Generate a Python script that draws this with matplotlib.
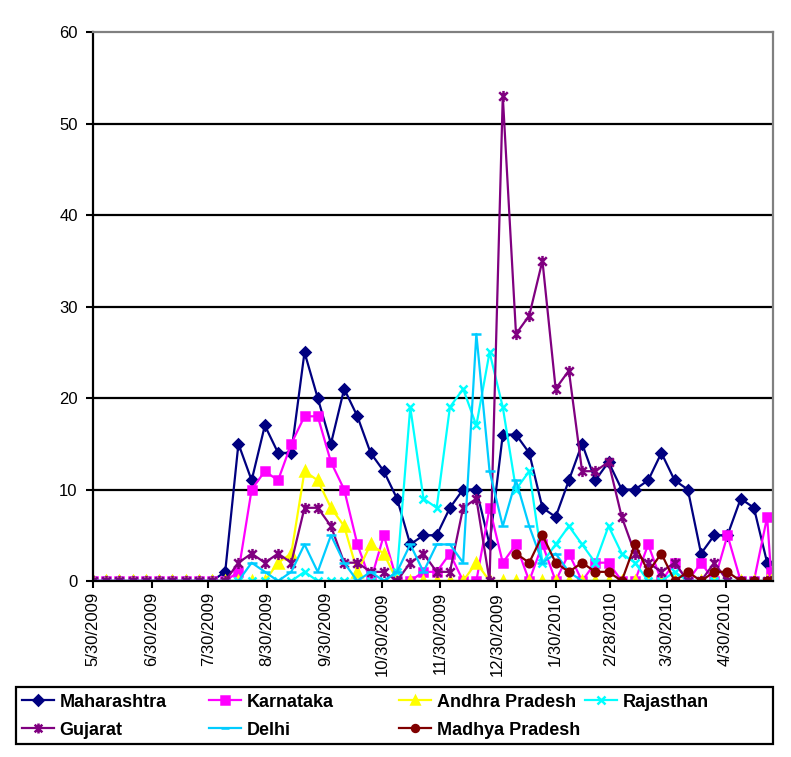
import numpy as np
import pandas as pd
import matplotlib
matplotlib.use("Agg")
import matplotlib.pyplot as plt
from matplotlib.path import Path
from matplotlib.patches import Rectangle

plt.rcParams['font.family'] = ['Liberation Sans', 'DejaVu Sans']

# weekly counts, 52 weeks from 5/30/2009 plus one last report
start_date = "2009-05-30"
n_weeks = 52
last_date = "2010-05-24"
axis_end = "2010-05-25"

maharashtra = [0]*10 + [1, 15, 11, 17, 14, 14, 25, 20, 15, 21, 18, 14, 12, 9, 4, 5, 5, 8, 10, 10,
                        4, 16, 16, 14, 8, 7, 11, 15, 11, 13, 10, 10, 11, 14, 11, 10, 3, 5, 5, 9,
                        8, 2, 0]
karnataka = [0]*11 + [1, 10, 12, 11, 15, 18, 18, 13, 10, 4, 0, 5, 0, 0, 1, 1, 3, 0, 0, 8,
                      2, 4, 0, 4, 0, 3, 0, 2, 2, 0, 0, 4, 0, 2, 0, 2, 0, 5, 0, 0, 7, 1]
andhra = [0]*14 + [2, 3, 12, 11, 8, 6, 1, 4, 3, 0, 0, 0, 0, 0, 0, 2] + [0]*23
rajasthan = [0]*16 + [1, 0, 0, 0, 0, 0, 0, 1, 19, 9, 8, 19, 21, 17, 25, 19, 10, 12, 2, 4,
                      6, 4, 2, 6, 3, 2, 0, 0, 1] + [0]*8
gujarat = [0]*11 + [2, 3, 2, 3, 2, 8, 8, 6, 2, 2, 1, 1, 0, 2, 3, 1, 1, 8, 9, 0,
                    53, 27, 29, 35, 21, 23, 12, 12, 13, 7, 3, 2, 1, 2, 0, 0, 2, 0, 0, 0,
                    0, 0]
delhi = [0]*12 + [2, 1, 0, 1, 4, 1, 5, 2, 0, 1, 0, 1, 4, 1, 4, 4, 2, 27, 12, 6,
                  11, 6, 2, 3, 1] + [0]*16
madhya = [np.nan]*32 + [3, 2, 5, 2, 1, 2, 1, 1, 0, 4, 1, 3, 0, 1, 0, 1, 1, 0, 0, 0, 0]

tick_labels = ["5/30/2009", "6/30/2009", "7/30/2009", "8/30/2009", "9/30/2009",
               "10/30/2009", "11/30/2009", "12/30/2009", "1/30/2010", "2/28/2010",
               "3/30/2010", "4/30/2010"]

dates = pd.date_range(start_date, periods=n_weeks, freq="7D").append(pd.DatetimeIndex([last_date]))
tick_dates = pd.to_datetime(tick_labels, format="%m/%d/%Y")

# excel style asterisk: x plus vertical bar
star = Path([(-1, -1), (1, 1), (-1, 1), (1, -1), (0, -1.3), (0, 1.3)],
            [Path.MOVETO, Path.LINETO, Path.MOVETO, Path.LINETO, Path.MOVETO, Path.LINETO])

series = [
    ("Maharashtra", maharashtra, "#000080", "D", 5.5),
    ("Karnataka", karnataka, "#FF00FF", "s", 6),
    ("Andhra Pradesh", andhra, "#FFFF00", "^", 6.5),
    ("Rajasthan", rajasthan, "#00FFFF", "x", 6),
    ("Gujarat", gujarat, "#800080", star, 8),
    ("Delhi", delhi, "#00CCFF", "_", 7),
    ("Madhya Pradesh", madhya, "#800000", "o", 5.5),
]

fig = plt.figure(figsize=(7.91, 7.57), dpi=100)
ax = fig.add_axes([0.1176, 0.2325, 0.8594, 0.7252])

handles = {}
for name, vals, col, mk, ms in series:
    ln, = ax.plot(dates, vals, color=col, lw=1.6, marker=mk, markersize=ms,
                  markerfacecolor=col, markeredgecolor=col, markeredgewidth=1.8,
                  label=name)
    handles[name] = ln

ax.set_ylim(0, 60)
ax.set_xlim(dates[0], pd.Timestamp(axis_end))
ax.set_yticks(range(0, 61, 10))
for yv in range(10, 60, 10):
    ax.axhline(yv, color="black", lw=1.6, zorder=0.5)

ax.set_xticks(tick_dates)
ax.set_xticklabels(tick_labels, rotation=90, fontsize=12)
ax.tick_params(axis="x", direction="out", length=5, width=1.5, pad=3)
ax.tick_params(axis="y", direction="out", length=5, width=1.5, pad=6, labelsize=12)

for s in ["left", "bottom"]:
    ax.spines[s].set_color("black")
    ax.spines[s].set_linewidth(1.6)
for s in ["top", "right"]:
    ax.spines[s].set_color("#808080")
    ax.spines[s].set_linewidth(1.6)

# legend frame and four columns
fig.patches.append(Rectangle((16/791, 13/757), 757/791, 57/757, transform=fig.transFigure,
                             fill=False, edgecolor="black", lw=1.6))
columns = [["Maharashtra", "Gujarat"], ["Karnataka", "Delhi"],
           ["Andhra Pradesh", "Madhya Pradesh"], ["Rajasthan"]]
col_x = [18, 205, 395, 581]
for cx, names in zip(col_x, columns):
    fig.legend([handles[n] for n in names], names, loc="upper left",
               bbox_to_anchor=(cx/791, 1 - 690/757), frameon=False,
               prop={"weight": "bold", "size": 13}, handlelength=1.8,
               handletextpad=0.3, labelspacing=0.62, borderaxespad=0,
               borderpad=0.2, markerscale=0.9)

fig.savefig("out.png", dpi=100)
